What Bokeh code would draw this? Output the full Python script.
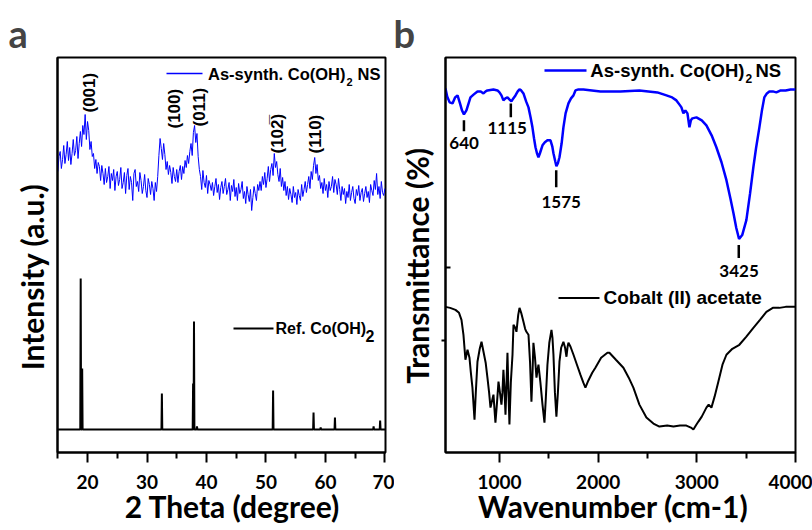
import numpy as np
from bokeh.plotting import figure
from bokeh.models import Label, FixedTicker
from bokeh.layouts import row
from bokeh.embed import file_html
from bokeh.resources import INLINE

# ---------------- data : XRD (panel a) ----------------
xrd_start = 15.0
xrd_step = 0.2
xrd_synth = [
    281, 296, 301, 284, 293, 307, 289, 298, 311, 292,
    305, 288, 299, 313, 297, 302, 316, 294, 309, 321,
    306, 327, 318, 338, 313, 331, 322, 303, 311, 296,
    299, 284, 293, 279, 290, 286, 272, 287, 279, 268,
    284, 270, 276, 286, 264, 279, 272, 283, 262, 276,
    281, 267, 273, 285, 264, 270, 280, 259, 277, 284,
    263, 276, 270, 252, 279, 283, 266, 271, 261, 280,
    272, 259, 266, 278, 262, 255, 274, 268, 258, 271,
    264, 252, 270, 261, 276, 297, 314, 304, 293, 309,
    298, 283, 291, 278, 287, 280, 269, 285, 276, 271,
    283, 270, 281, 287, 273, 286, 279, 292, 285, 297,
    289, 301, 309, 297, 320, 327, 310, 319, 296, 283,
    276, 263, 282, 270, 265, 277, 259, 272, 268, 262,
    270, 257, 266, 274, 260, 268, 253, 265, 271, 259,
    266, 274, 258, 263, 270, 252, 267, 261, 273, 256,
    265, 252, 269, 259, 263, 271, 254, 261, 249, 266,
    258, 251, 263, 242, 255, 266, 259, 252, 268, 262,
    271, 262, 276, 268, 280, 265, 274, 286, 271, 283,
    289, 277, 299, 285, 291, 278, 271, 284, 266, 275,
    262, 271, 257, 266, 253, 264, 258, 250, 266, 255,
    260, 248, 263, 257, 252, 268, 256, 263, 271, 260,
    268, 276, 264, 281, 273, 287, 295, 279, 288, 272,
    277, 264, 270, 259, 274, 262, 268, 255, 271, 262,
    266, 276, 260, 273, 268, 258, 274, 263, 252, 266,
    258, 264, 249, 261, 255, 268, 252, 260, 266, 254,
    249, 263, 257, 267, 252, 260, 264, 251, 259, 266,
    255, 261, 250, 268, 262, 257, 272, 263, 279, 258,
    266, 254, 271, 260, 257, 264,
]
ref_pos = [18.85, 19.1, 32.5, 37.75, 37.9, 38.4, 51.2, 58.0, 59.2, 61.6, 68.1, 69.2]
ref_height = [174, 84, 59, 69, 131, 26, 62, 40, 25, 35, 26, 32]
ref_base = 23
xrd_hkl = ["(001)", "(100)", "(011)", "(102\u0305)", "(110)"]
xrd_hkl_pos = [20.3, 34.6, 38.9, 52.0, 58.4]
xrd_hkl_y = [340, 324, 326, 299, 299]
xrd_ticks = [20, 30, 40, 50, 60, 70]
xrd_minor = [15, 25, 35, 45, 55, 65]

# ---------------- data : FTIR (panel b) ----------------
ftir_synth_wn = [453, 470, 495, 524, 550, 575, 600, 620, 640, 665, 706, 740, 777, 810, 838,
                 860, 878, 939, 980, 1000, 1020, 1040, 1060, 1081, 1100, 1121, 1140, 1162,
                 1185, 1203, 1220, 1243, 1270, 1294, 1315, 1334, 1350, 1365, 1380, 1395,
                 1410, 1436, 1460, 1486, 1517, 1535, 1547, 1565, 1577, 1592, 1608, 1630,
                 1648, 1670, 1699, 1725, 1750, 1770, 1800, 1851, 2023, 2226, 2418, 2600,
                 2692, 2750, 2793, 2830, 2844, 2864, 2884, 2905, 2925, 2940, 2955, 2996,
                 3050, 3097, 3150, 3198, 3250, 3300, 3340, 3371, 3400, 3428, 3460, 3502,
                 3540, 3573, 3600, 3634, 3660, 3684, 3710, 3735, 3770, 3806, 3850, 3900,
                 3950, 4000]
ftir_synth_t = [365, 357, 351, 350, 356, 358, 350, 343, 339, 343, 356, 359, 362, 362, 360,
                362, 363, 364, 363, 361, 358, 353, 355, 356, 354, 352, 355, 358,
                362, 364, 363, 360, 352, 346, 336, 326, 315, 306, 300, 296,
                300, 308, 311, 313, 313, 307, 300, 292, 287, 290, 296, 310,
                326, 340, 350, 355, 358, 363, 364, 364, 362, 362, 363, 361,
                358, 356, 353, 348, 346, 340, 343, 340, 326, 333, 335, 336,
                333, 328, 318, 306, 291, 273, 255, 240, 225, 214, 218, 233,
                260, 286, 305, 326, 343, 356, 360, 362, 362, 361, 363, 363,
                364, 364]
ftir_acet_wn = [453, 500, 554, 590, 615, 635, 655, 676, 696, 710, 726, 747, 760, 777, 800,
                818, 838, 860, 878, 895, 909, 925, 939, 959, 975, 990, 1005, 1020, 1030,
                1040, 1050, 1061, 1070, 1081, 1090, 1101, 1115, 1132, 1142, 1160, 1172,
                1190, 1203, 1220, 1243, 1260, 1273, 1294, 1310, 1324, 1335, 1344, 1360,
                1375, 1385, 1395, 1415, 1436, 1456, 1470, 1486, 1505, 1527, 1537, 1547,
                1562, 1577, 1592, 1608, 1625, 1648, 1665, 1679, 1690, 1699, 1720, 1750,
                1785, 1820, 1850, 1871, 1900, 1940, 1972, 2030, 2094, 2114, 2180, 2256,
                2310, 2357, 2418, 2489, 2560, 2621, 2700, 2763, 2830, 2894, 2940, 2965,
                2990, 3016, 3050, 3097, 3120, 3148, 3180, 3218, 3260, 3300, 3360, 3431,
                3500, 3573, 3640, 3705, 3770, 3836, 3900, 4000]
ftir_acet_t = [146, 145, 143, 140, 133, 118, 93, 103, 95, 80, 65, 33, 60, 91, 104,
               111, 101, 90, 75, 60, 45, 52, 58, 30, 50, 71, 60, 48, 60,
               83, 65, 38, 65, 100, 65, 28, 70, 98, 128, 125, 121,
               138, 145, 140, 131, 124, 121, 118, 90, 51, 80, 110, 95,
               75, 82, 88, 70, 48, 30, 55, 88, 110, 123, 115, 98,
               60, 36, 60, 91, 105, 111, 105, 96, 106, 110, 106, 98,
               88, 78, 70, 65, 72, 80, 85, 95, 100, 100, 93, 85,
               75, 65, 48, 35, 29, 26, 27, 26, 27, 27, 25, 23,
               27, 31, 36, 45, 48, 45, 56, 71, 88, 98, 104, 108,
               116, 125, 133, 141, 145, 145, 146, 146]
ftir_peaks = [640, 1115, 1575, 3425]
ftir_peak_label_x = [642, 1078, 1625, 3428]
ftir_peak_label_y = [310, 325, 251, 182]
ftir_peak_tick_top = [333, 350, 283, 208]
ftir_peak_tick_bot = [322, 336, 266, 195]
ftir_ticks = [1000, 2000, 3000, 4000]
ftir_minor = [1500, 2500, 3500]
ftir_yticks = [112]
ftir_yminor = [185]

BLUE = "#0000ff"
HUM = "Lato"
ARIAL = "Liberation Sans"
NB = "\u00a0"

# ---------- geometry helpers (page pixel -> data) ----------
A_XR, A_YR = (14.95, 70.1), (0, 395)
A_L, A_R, A_T, A_B = 57.0, 385.0, 57.0, 452.0
B_XR, B_YR = (453, 4000), (0, 396)
B_L, B_R, B_T, B_B = 445.0, 795.0, 57.0, 453.0


def ax(px):
    return A_XR[0] + (px - A_L) / (A_R - A_L) * (A_XR[1] - A_XR[0])


def ay(py):
    return A_YR[0] + (A_B - py) / (A_B - A_T) * (A_YR[1] - A_YR[0])


def bx(px):
    return B_XR[0] + (px - B_L) / (B_R - B_L) * (B_XR[1] - B_XR[0])


def by(py):
    return B_YR[0] + (B_B - py) / (B_B - B_T) * (B_YR[1] - B_YR[0])


def lab(p, x, y, text, size, font=ARIAL, color="black", align="left",
        baseline="middle", angle=0.0, style="bold"):
    p.add_layout(Label(x=x, y=y, text=text, text_font=font, text_font_size=f"{size}px",
                       text_font_style=style, text_color=color, text_align=align,
                       text_baseline=baseline, angle=angle))


def style_fig(p, letter, letter_offset):
    p.xgrid.visible = False
    p.ygrid.visible = False
    p.outline_line_color = "black"
    p.outline_line_width = 2
    p.outline_line_alpha = 1.0
    p.background_fill_color = "white"
    p.border_fill_color = "white"
    p.title.text = letter
    p.title.text_font = HUM
    p.title.text_font_size = "38px"
    p.title.text_font_style = "bold"
    p.title.align = "left"
    p.title.vertical_align = "top"
    p.title.offset = letter_offset
    p.title.standoff = 0
    for a in (p.xaxis[0], p.yaxis[0]):
        a.axis_line_width = 2
        a.axis_line_color = "black"
        a.major_tick_line_width = 2
        a.minor_tick_line_width = 2
        a.major_tick_line_color = "black"
        a.minor_tick_line_color = "black"
        a.major_tick_in = 0
        a.minor_tick_in = 0
        a.axis_label_text_font = HUM
        a.axis_label_text_font_style = "bold"
        a.axis_label_text_font_size = "30px"
        a.axis_label_text_color = "black"
    xa = p.xaxis[0]
    xa.major_tick_out = 10
    xa.minor_tick_out = 6
    xa.major_label_text_font = HUM
    xa.major_label_text_font_style = "bold"
    xa.major_label_text_font_size = "19px"
    xa.major_label_text_color = "black"
    xa.major_label_standoff = 12
    xa.axis_label_standoff = -4


# ================= panel a =================
p1 = figure(width=394, height=530, x_range=A_XR, y_range=A_YR, output_backend="svg",
            toolbar_location=None, min_border_left=57, min_border_right=9,
            min_border_top=57, min_border_bottom=78, title="a")
style_fig(p1, "a", -49)
p1.xaxis[0].ticker = FixedTicker(ticks=xrd_ticks, minor_ticks=xrd_minor)
p1.xaxis[0].axis_label = NB * 3 + "2 Theta (degree)"
ya = p1.yaxis[0]
ya.ticker = FixedTicker(ticks=[], minor_ticks=[])
ya.major_tick_out = 0
ya.minor_tick_out = 0
ya.major_tick_line_color = None
ya.minor_tick_line_color = None
ya.major_label_standoff = 0
ya.axis_label_standoff = 8
ya.axis_label = "Intensity (a.u.)" + NB * 6

xrd_x = xrd_start + xrd_step * np.arange(len(xrd_synth))
p1.line(xrd_x, xrd_synth, line_color=BLUE, line_width=1)

# reference stick pattern as a narrow-peak profile
rx, ry = [A_XR[0]], [ref_base]
for pos, h in zip(ref_pos, ref_height):
    rx += [pos - 0.07, pos, pos + 0.07]
    ry += [ref_base, h, ref_base]
rx.append(A_XR[1])
ry.append(ref_base)
p1.line(rx, ry, line_color="black", line_width=2)

for t, xx, yy in zip(xrd_hkl, xrd_hkl_pos, xrd_hkl_y):
    lab(p1, xx, yy, t, 17, angle=np.pi / 2, align="left", baseline="middle")

# legends (panel a)
p1.line([ax(166), ax(202)], [ay(73), ay(73)], line_color=BLUE, line_width=1.5)
lab(p1, ax(345), ay(73), "As-synth. Co(OH)", 16.5, align="right")
lab(p1, ax(346), ay(81), "2", 11)
lab(p1, ax(357), ay(73), "NS", 16.5)
p1.line([ax(233), ax(273)], [ay(328), ay(328)], line_color="black", line_width=2)
lab(p1, ax(275), ay(328), "Ref. Co(OH)", 16)
lab(p1, ax(365), ay(335), "2", 16)

# ================= panel b =================
p2 = figure(width=418, height=530, x_range=B_XR, y_range=B_YR, output_backend="svg",
            toolbar_location=None, min_border_left=51, min_border_right=17,
            min_border_top=57, min_border_bottom=77, title="b")
style_fig(p2, "b", -52)
p2.xaxis[0].ticker = FixedTicker(ticks=ftir_ticks, minor_ticks=ftir_minor)
p2.xaxis[0].axis_label = "Wavenumber (cm-1)" + NB * 2
yb = p2.yaxis[0]
yb.ticker = FixedTicker(ticks=ftir_yticks, minor_ticks=ftir_yminor)
yb.major_tick_out = 4
yb.minor_tick_out = 0
yb.minor_tick_in = 5
yb.major_label_overrides = {t: "" for t in ftir_yticks}
yb.major_label_standoff = 0
yb.axis_label_standoff = 7
yb.axis_label = "Transmittance (%)" + NB * 3

p2.line(ftir_synth_wn, ftir_synth_t, line_color=BLUE, line_width=2.5)
p2.line(ftir_acet_wn, ftir_acet_t, line_color="black", line_width=2)

p2.segment(x0=ftir_peaks, y0=ftir_peak_tick_bot, x1=ftir_peaks, y1=ftir_peak_tick_top,
           line_color="black", line_width=2.5)
for pk, xx, yy in zip(ftir_peaks, ftir_peak_label_x, ftir_peak_label_y):
    lab(p2, xx, yy, str(pk), 17, font=HUM, align="center")

# legends (panel b)
p2.line([bx(544), bx(586)], [by(70), by(70)], line_color=BLUE, line_width=2.5)
lab(p2, bx(744), by(70), "As-synth. Co(OH)", 18.5, align="right")
lab(p2, bx(745), by(78), "2", 12)
lab(p2, bx(755), by(70), "NS", 18.5)
p2.line([bx(558), bx(599)], [by(298), by(298)], line_color="black", line_width=2)
lab(p2, bx(603), by(298), "Cobalt (II) acetate", 19)

layout = row(p1, p2)
open("out.html", "w").write(file_html(layout, INLINE))
